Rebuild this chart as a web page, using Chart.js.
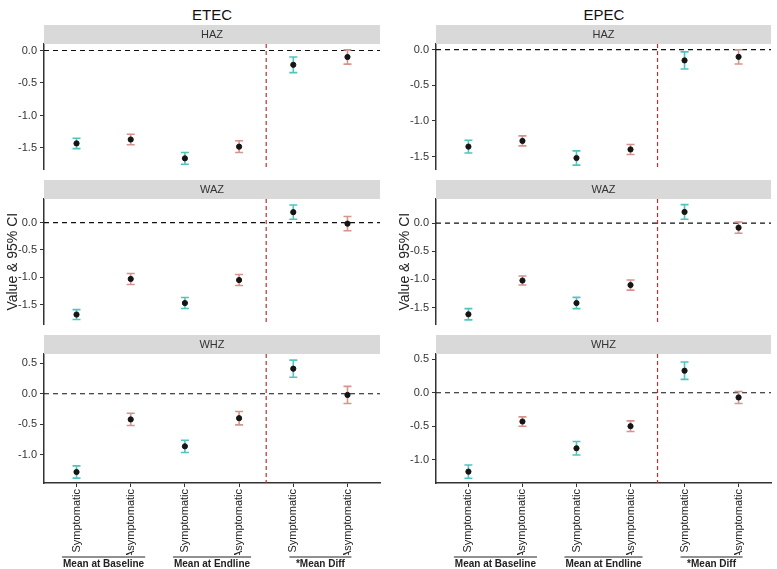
<!DOCTYPE html>
<html lang="en">
<head>
<meta charset="UTF-8">
<title>ETEC / EPEC anthropometry</title>
<script src="https://cdn.jsdelivr.net/npm/chart.js@4.4.1/dist/chart.umd.min.js"></script>
<style>
  body { margin: 0; background: #fff; font-family: 'Liberation Sans', Arial, sans-serif; }
  #wrap { position: relative; width: 777px; height: 569px; overflow: hidden; }
  canvas { position: absolute; }
  .ttl { position: absolute; top: 6px; font-size: 15px; color: #111; text-align: center; width: 200px; }
</style>
</head>
<body>
<div id="wrap">
  <div class="ttl" style="left:112px">ETEC</div>
  <div class="ttl" style="left:504px">EPEC</div>
  <canvas id="c1" width="384" height="148" style="left:0;top:25px"></canvas>
  <canvas id="c2" width="384" height="148" style="left:0;top:180px"></canvas>
  <canvas id="c3" width="384" height="234" style="left:0;top:335px"></canvas>
  <canvas id="c4" width="385" height="148" style="left:392px;top:25px"></canvas>
  <canvas id="c5" width="385" height="148" style="left:392px;top:180px"></canvas>
  <canvas id="c6" width="385" height="234" style="left:392px;top:335px"></canvas>
</div>
<script>
const categories = ['Symptomatic', 'Asymptomatic', 'Symptomatic', 'Asymptomatic', 'Symptomatic', 'Asymptomatic'];
const groups = ['Mean at Baseline', 'Mean at Endline', '*Mean Diff'];
const xPos = [1, 2, 3, 4, 5, 6];

// ETEC
const etecHAZ = [-1.43, -1.37, -1.66, -1.48, -0.22, -0.10];
const etecHAZci = [0.08, 0.08, 0.09, 0.09, 0.12, 0.11];
const etecWAZ = [-1.68, -1.03, -1.47, -1.05, 0.19, -0.02];
const etecWAZci = [0.09, 0.10, 0.10, 0.10, 0.13, 0.13];
const etecWHZ = [-1.28, -0.42, -0.86, -0.40, 0.41, -0.02];
const etecWHZci = [0.10, 0.10, 0.10, 0.11, 0.14, 0.14];

// EPEC
const epecHAZ = [-1.36, -1.28, -1.52, -1.40, -0.15, -0.10];
const epecHAZci = [0.09, 0.07, 0.10, 0.07, 0.12, 0.10];
const epecWAZ = [-1.62, -1.02, -1.42, -1.10, 0.20, -0.08];
const epecWAZci = [0.10, 0.08, 0.10, 0.09, 0.13, 0.10];
const epecWHZ = [-1.18, -0.43, -0.83, -0.50, 0.33, -0.07];
const epecWHZci = [0.10, 0.07, 0.10, 0.08, 0.13, 0.09];

const ticksZ = [0, -0.5, -1.0, -1.5];
const ticksWHZ = [0.5, 0, -0.5, -1.0];

const TEAL = '#52c4bf';
const SALMON = '#d6948c';
const barColors = [TEAL, SALMON, TEAL, SALMON, TEAL, SALMON];

// strip header, zero line, divider and error bars
const panelPlugin = {
  id: 'panel',
  beforeDatasetsDraw(chart) {
    const { ctx, chartArea: a, scales: { x, y } } = chart;
    const o = chart.options.plugins.panel;
    ctx.save();
    // strip
    ctx.fillStyle = '#d9d9d9';
    ctx.fillRect(a.left, a.top - 19, a.right - a.left, 19);
    ctx.fillStyle = '#333';
    ctx.font = '11px "Liberation Sans", Arial, sans-serif';
    ctx.textAlign = 'center';
    ctx.textBaseline = 'middle';
    ctx.fillText(o.strip, (a.left + a.right) / 2, a.top - 9);
    // zero line
    const y0 = y.getPixelForValue(0);
    ctx.strokeStyle = '#111';
    ctx.lineWidth = 1.2;
    ctx.setLineDash([5, 4]);
    ctx.beginPath(); ctx.moveTo(a.left, y0); ctx.lineTo(a.right, y0); ctx.stroke();
    // divider
    const xd = x.getPixelForValue(4.5);
    ctx.strokeStyle = '#b8312f';
    ctx.setLineDash([4, 3]);
    ctx.beginPath(); ctx.moveTo(xd, a.top); ctx.lineTo(xd, a.bottom); ctx.stroke();
    ctx.setLineDash([]);
    // error bars
    const ds = chart.data.datasets[0];
    ds.data.forEach((p, i) => {
      const px = x.getPixelForValue(p.x);
      const lo = y.getPixelForValue(p.y - ds.ci[i]);
      const hi = y.getPixelForValue(p.y + ds.ci[i]);
      ctx.strokeStyle = barColors[i];
      ctx.lineWidth = 1.6;
      ctx.beginPath();
      ctx.moveTo(px, lo); ctx.lineTo(px, hi);
      ctx.moveTo(px - 4, lo); ctx.lineTo(px + 4, lo);
      ctx.moveTo(px - 4, hi); ctx.lineTo(px + 4, hi);
      ctx.stroke();
    });
    ctx.restore();
  },
  afterDraw(chart) {
    const o = chart.options.plugins.panel;
    if (!o.groups) return;
    const { ctx, scales: { x } } = chart;
    const h = chart.height;
    ctx.save();
    ctx.font = 'bold 10px "Liberation Sans", Arial, sans-serif';
    ctx.textAlign = 'center';
    ctx.textBaseline = 'middle';
    groups.forEach((g, i) => {
      const cx = x.getPixelForValue(xPos[i * 2] + 0.5);
      const w = Math.max(ctx.measureText(g).width + 2, 62);
      ctx.strokeStyle = '#222';
      ctx.lineWidth = 1;
      ctx.beginPath(); ctx.moveTo(cx - w / 2, h - 12); ctx.lineTo(cx + w / 2, h - 12); ctx.stroke();
      ctx.fillStyle = '#222';
      ctx.fillText(g, cx, h - 5);
    });
    ctx.restore();
  }
};

function makePanel(id, strip, vals, ci, yMin, yMax, yTicks, bottom, yTitle, padRight) {
  new Chart(document.getElementById(id), {
    type: 'scatter',
    data: {
      datasets: [{
        data: xPos.map((v, i) => ({ x: v, y: vals[i] })),
        ci: ci,
        backgroundColor: '#151515',
        borderColor: '#151515',
        pointRadius: 2.6,
        pointHoverRadius: 2.6
      }]
    },
    options: {
      responsive: false,
      animation: false,
      events: [],
      layout: { padding: { top: 19, right: padRight, bottom: bottom ? 14 : 0, left: 0 } },
      plugins: {
        legend: { display: false },
        tooltip: { enabled: false },
        panel: { strip: strip, groups: bottom }
      },
      scales: {
        x: {
          type: 'linear',
          display: bottom,
          min: 0.4,
          max: 6.6,
          afterBuildTicks: s => { s.ticks = xPos.map(v => ({ value: v })); },
          afterFit: s => { s.height = bottom ? 72 : 0; s.paddingLeft = 0; s.paddingRight = 0; },
          border: { display: true, color: '#333', width: 1.5 },
          grid: { drawOnChartArea: false, color: '#333', tickLength: 4 },
          ticks: {
            autoSkip: false,
            maxRotation: 90,
            minRotation: 90,
            padding: 2,
            color: '#222',
            font: { size: 11, family: '"Liberation Sans", Arial, sans-serif' },
            callback: v => categories[xPos.indexOf(v)]
          }
        },
        y: {
          min: yMin,
          max: yMax,
          afterBuildTicks: s => { s.ticks = yTicks.map(v => ({ value: v })); },
          afterFit: s => { s.width = 44; s.paddingTop = 0; s.paddingBottom = 0; },
          border: { display: true, color: '#333', width: 1.5 },
          grid: { drawOnChartArea: false, color: '#333', tickLength: 4 },
          title: {
            display: !!yTitle,
            text: yTitle || '',
            color: '#222',
            padding: { top: 5, bottom: 0 },
            font: { size: 14, family: '"Liberation Sans", Arial, sans-serif' }
          },
          ticks: {
            padding: 3,
            color: '#333',
            font: { size: 11, family: '"Liberation Sans", Arial, sans-serif' },
            callback: v => Number(v).toFixed(1)
          }
        }
      }
    },
    plugins: [panelPlugin]
  });
}

makePanel('c1', 'HAZ', etecHAZ, etecHAZci, -1.83, 0.10, ticksZ, false, null, 4);
makePanel('c2', 'WAZ', etecWAZ, etecWAZci, -1.86, 0.43, ticksZ, false, 'Value & 95% CI', 4);
makePanel('c3', 'WHZ', etecWHZ, etecWHZci, -1.46, 0.65, ticksWHZ, true, null, 4);
makePanel('c4', 'HAZ', epecHAZ, epecHAZci, -1.68, 0.08, ticksZ, false, null, 6);
makePanel('c5', 'WAZ', epecWAZ, epecWAZci, -1.80, 0.43, ticksZ, false, 'Value & 95% CI', 6);
makePanel('c6', 'WHZ', epecWHZ, epecWHZci, -1.35, 0.58, ticksWHZ, true, null, 6);
</script>
</body>
</html>
